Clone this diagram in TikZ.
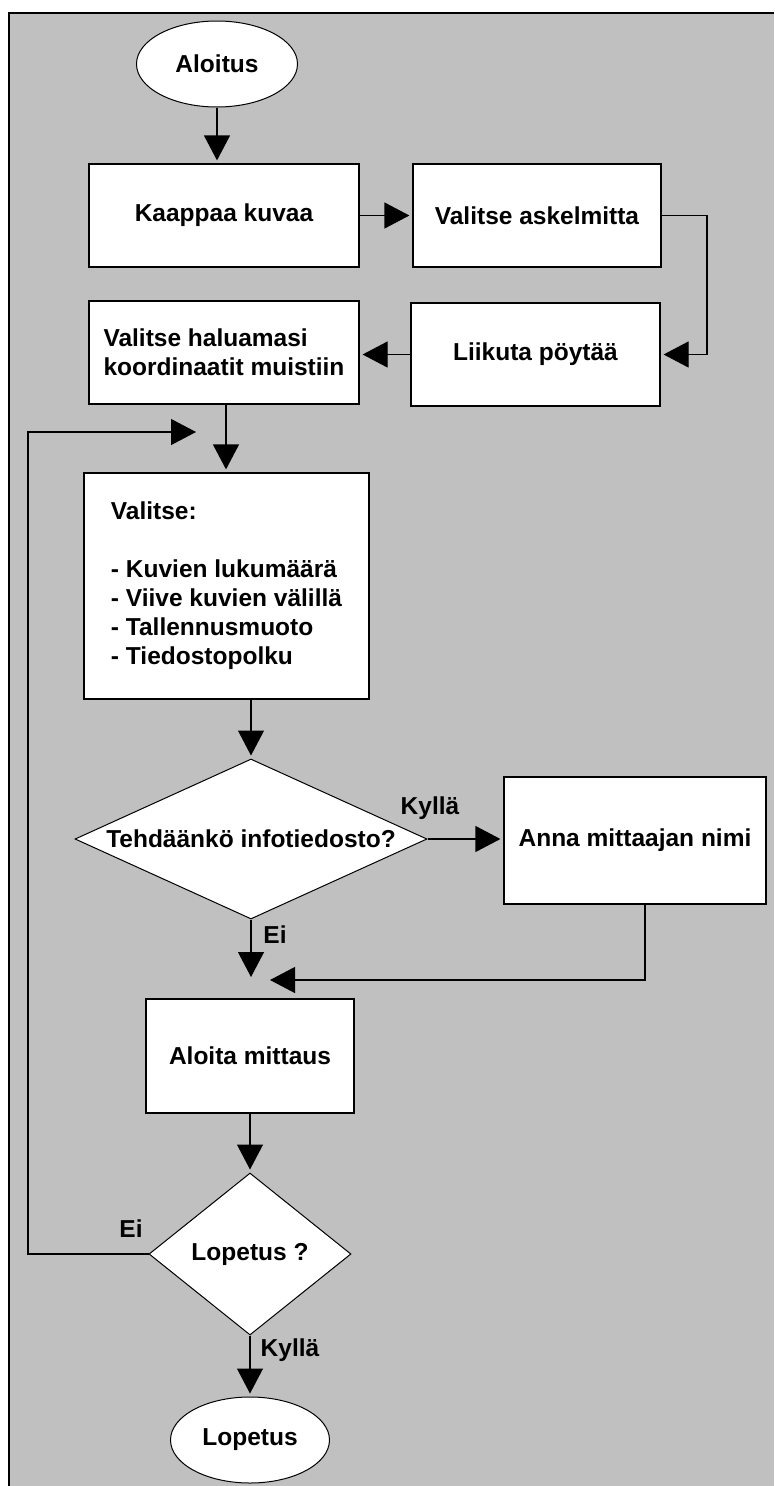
\documentclass[tikz,border=0pt]{standalone}
\usepackage{fontspec}
\setmainfont{Liberation Sans}
\usetikzlibrary{shapes.geometric,arrows.meta}
\definecolor{bggray}{HTML}{C0C0C0}
\tikzset{
  every node/.style={font=\fontsize{24.5}{29}\selectfont\bfseries, inner sep=0pt},
  box/.style={draw, fill=white, line width=1.2pt, rectangle},
  terminal/.style={draw, fill=white, line width=1pt, ellipse},
  decision/.style={draw, fill=white, line width=1pt, diamond},
  arr/.style={line width=1.2pt, -{Triangle[length=25pt,width=26pt]}, shorten >=3pt},
  link/.style={line width=1.2pt}
}
\begin{document}
\begin{tikzpicture}[x=1pt,y=-1pt]
      \useasboundingbox (0,0) rectangle (774,1486);
      \fill[bggray] (9,13) rectangle (774,1486);
      \draw[line width=2.5pt] (9,1486) -- (9,13) -- (774,13);
      \draw
        (217,64) node[terminal, minimum width=161pt, minimum height=86pt] (aloitus){Aloitus}
        (224,215.5) node[box, minimum width=270pt, minimum height=103pt] (kaappaa){Kaappaa kuvaa}
        (537,215.5) node[box, minimum width=248pt, minimum height=103pt] (askel){Valitse askelmitta}
        (535.5,354.5) node[box, minimum width=249pt, minimum height=103pt] (liikuta){Liikuta pöytää}
        (224,352.5) node[box, minimum width=270pt, minimum height=103pt, align=left] (haluamasi){Valitse haluamasi\\koordinaatit muistiin}
        (226.5,586) node[box, minimum width=285pt, minimum height=226pt, align=left] (valitse){Valitse:\\[29pt]- Kuvien lukumäärä\\- Viive kuvien välillä\\- Tallennusmuoto\\- Tiedostopolku}
        (251,839) node[decision, aspect=2.2, minimum width=352pt, minimum height=160pt] (tehda){Tehdäänkö infotiedosto?}
        (635,840.5) node[box, minimum width=262pt, minimum height=127pt] (anna){Anna mittaajan nimi}
        (250,1056) node[box, minimum width=208pt, minimum height=114pt] (aloita){Aloita mittaus}
        (250,1254) node[decision, aspect=1.25, minimum width=202pt, minimum height=162pt] (lopetusq){Lopetus ?}
        (250,1440) node[terminal, minimum width=159pt, minimum height=86pt] (lopetus){Lopetus};
      \coordinate (oikea) at (707,0);
      \coordinate (eiloppu) at (251,977);
      \coordinate (annaloppu) at (270,980);
      \coordinate (silmukka) at (28,432);
      \coordinate (silmukkaloppu) at (196,432);
      \node (kylla1) at (430,808) {Kyllä};
      \node (ei1) at (275,935) {Ei};
      \node (ei2) at (131,1229) {Ei};
      \node (kylla2) at (290,1350) {Kyllä};
      \begin{scope}[arr]
        \draw (aloitus.south) to (aloitus.south |- kaappaa.north);
        \draw (kaappaa.east) to (askel.west);
        \draw (askel.east) -- (askel.east -| oikea) -- (liikuta.east -| oikea) -- (liikuta.east);
        \draw (liikuta.west) to (liikuta.west -| haluamasi.east);
        \draw ([xshift=2pt]haluamasi.south) to ([xshift=2pt]haluamasi.south |- valitse.north);
        \draw (valitse.south -| tehda.north) to (tehda.north);
        \draw (tehda.east) to (tehda.east -| anna.west);
        \draw[shorten >=0pt] (tehda.south) to (eiloppu);
        \draw[shorten >=0pt] ([xshift=10pt]anna.south) |- (annaloppu);
        \draw (aloita.south) to (lopetusq.north);
        \draw[shorten >=0pt] (lopetusq.west) -| (silmukka) -- (silmukkaloppu);
        \draw (lopetusq.south) to (lopetus.north);
      \end{scope}
    \end{tikzpicture}
\end{document}
